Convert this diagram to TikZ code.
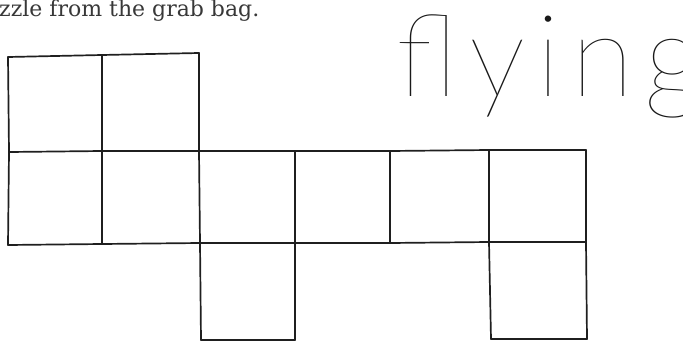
\documentclass[tikz,border=0pt]{standalone}
\usepackage{fontspec}
\newfontfamily\capfont{DejaVu Serif}
\newfontfamily\flyfont[LetterSpace=9.5]{Lato Thin}
\begin{document}
\begin{tikzpicture}[x=1pt,y=-1pt,
  gridline/.style={line width=1.7pt,color=black!88,line cap=round,line join=round},
  captext/.style={inner sep=0pt,anchor=base west,text=black!78,font=\capfont\fontsize{22}{25}\selectfont},
  flytext/.style={inner sep=0pt,anchor=base west,text=black!90,font=\flyfont\fontsize{115}{120}\selectfont}]
\useasboundingbox (0,0) rectangle (683,343);
% grid points
\coordinate (A0) at (8,57);   \coordinate (A1) at (102,55); \coordinate (A2) at (199,53);
\coordinate (B0) at (9,152);  \coordinate (B1) at (102,151); \coordinate (B2) at (199,151);
\coordinate (B3) at (295,151); \coordinate (B4) at (390,151); \coordinate (B5) at (489,150);
\coordinate (B6) at (586,150);
\coordinate (C0) at (8,245);  \coordinate (C1) at (102,244); \coordinate (C2) at (200,243);
\coordinate (C3) at (295,243); \coordinate (C4) at (390,243); \coordinate (C5) at (489,242);
\coordinate (C6) at (586,242);
\coordinate (D2) at (201,340); \coordinate (D3) at (295,340);
\coordinate (D5) at (491,339); \coordinate (D6) at (587,339);
% horizontals
\draw[gridline] (A0) -- (A1) -- (A2);
\draw[gridline] (B0) -- (B1) -- (B2) -- (B3) -- (B4) -- (B5) -- (B6);
\draw[gridline] (C0) -- (C1) -- (C2) -- (C3) -- (C4) -- (C5) -- (C6);
\draw[gridline] (D2) -- (D3);
\draw[gridline] (D5) -- (D6);
% verticals
\draw[gridline] (A0) -- (B0) -- (C0);
\draw[gridline] (A1) -- (B1) -- (C1);
\draw[gridline] (A2) -- (B2) -- (C2) -- (D2);
\draw[gridline] (B3) -- (C3) -- (D3);
\draw[gridline] (B4) -- (C4);
\draw[gridline] (B5) -- (C5) -- (D5);
\draw[gridline] (B6) -- (C6) -- (D6);
% texts
\node[captext] (cap) at (-1,16) {zzle from the grab bag.};
\node[flytext] (fly) at (396,96) {flying};
\end{tikzpicture}
\end{document}
